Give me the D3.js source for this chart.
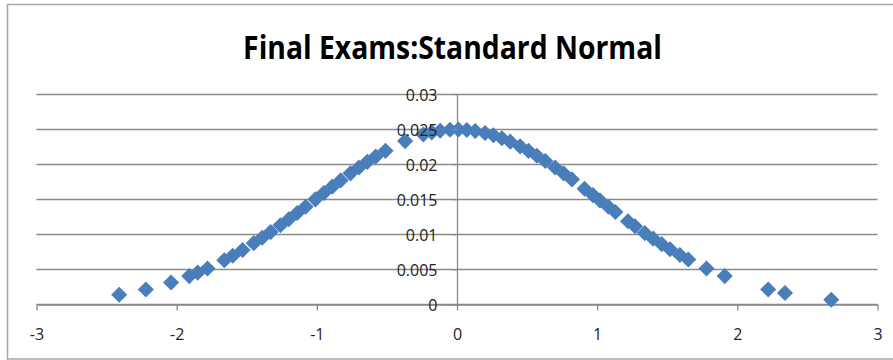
<!DOCTYPE html>
<html>
<head>
<meta charset="utf-8">
<script src="https://cdn.jsdelivr.net/npm/d3@7"></script>
<style>
  html, body { margin: 0; padding: 0; background: #fff; }
  svg { display: block; }
</style>
</head>
<body>
<svg id="chart" width="893" height="360"></svg>
<script>
// Standardised final-exam scores (z) and their normal density values
const zScores = [
  -2.41, -2.22, -2.04, -1.91, -1.85, -1.78, -1.66, -1.60, -1.53,
  -1.45, -1.39, -1.33, -1.26, -1.20, -1.14, -1.08, -1.01, -0.95, -0.89,
  -0.83, -0.76, -0.70, -0.64, -0.58, -0.51,
  -0.37,
  -0.24, -0.18, -0.12, -0.05, 0.01, 0.07, 0.13, 0.20, 0.26, 0.32, 0.38,
  0.45, 0.51, 0.57, 0.63, 0.70, 0.76, 0.82,
  0.91, 0.97, 1.02, 1.08, 1.13,
  1.22, 1.27, 1.34, 1.40, 1.46, 1.52, 1.59, 1.65,
  1.78, 1.91, 2.22, 2.34, 2.67
];
const density = [
  0.00137, 0.00212, 0.00311, 0.00402, 0.00451, 0.00511, 0.00629, 0.00693, 0.00774,
  0.00872, 0.00949, 0.01030, 0.01127, 0.01214, 0.01302, 0.01392, 0.01497, 0.01588, 0.01678,
  0.01767, 0.01868, 0.01952, 0.02032, 0.02107, 0.02189,
  0.02328,
  0.02423, 0.02453, 0.02476, 0.02490, 0.02493, 0.02487, 0.02472, 0.02444, 0.02411, 0.02369, 0.02320,
  0.02253, 0.02189, 0.02120, 0.02045, 0.01952, 0.01868, 0.01782,
  0.01648, 0.01558, 0.01482, 0.01392, 0.01317,
  0.01185, 0.01113, 0.01016, 0.00936, 0.00859, 0.00785, 0.00704, 0.00639,
  0.00511, 0.00402, 0.00212, 0.00161, 0.00065
];
const xTicks = [-3, -2, -1, 0, 1, 2, 3];
const xTickLabels = ["-3", "-2", "-1", "0", "1", "2", "3"];
const yTicks = [0, 0.005, 0.01, 0.015, 0.02, 0.025, 0.03];
const yTickLabels = ["0", "0.005", "0.01", "0.015", "0.02", "0.025", "0.03"];
const chartTitle = "Final Exams:Standard Normal";

const svg = d3.select("#chart");
const W = 893;
const plot = { left: 36.5, right: 877.5, top: 94, bottom: 304.3 };

const x = d3.scaleLinear().domain([-3, 3]).range([plot.left, plot.right]);
const y = d3.scaleLinear().domain([0, 0.03]).range([plot.bottom, plot.top]);

const gridColor = "#8a8a8a";
const labelFont = "'Open Sans', 'Liberation Sans', sans-serif";

// chart frame
svg.append("rect")
  .attr("x", 7.5).attr("y", 4.5)
  .attr("width", W + 10).attr("height", 354.5)
  .attr("fill", "#fff")
  .attr("stroke", "#a6a6a6")
  .attr("stroke-width", 1.5);

// horizontal gridlines
svg.append("g")
  .selectAll("line")
  .data(yTicks)
  .join("line")
  .attr("x1", plot.left).attr("x2", plot.right)
  .attr("y1", d => Math.round(y(d)) + 0.5)
  .attr("y2", d => Math.round(y(d)) + 0.5)
  .attr("stroke", gridColor)
  .attr("stroke-width", 1.3);

// x axis along zero
const xAxis = d3.axisBottom(x)
  .tickValues(xTicks)
  .tickFormat((d, i) => xTickLabels[i])
  .tickSizeInner(6)
  .tickSizeOuter(0);
const gx = svg.append("g")
  .attr("transform", `translate(0,${Math.round(y(0)) + 0.5})`)
  .call(xAxis);
gx.select(".domain").attr("stroke", gridColor).attr("stroke-width", 1.3);
gx.selectAll(".tick line").attr("stroke", gridColor).attr("stroke-width", 1.3);
gx.selectAll(".tick text")
  .attr("y", 35).attr("dy", 0)
  .attr("fill", "#222")
  .style("font-family", labelFont)
  .style("font-size", "16px");

// vertical axis line at x = 0 (below the markers)
const axisX = Math.round(x(0)) + 0.5;
svg.append("line")
  .attr("x1", axisX).attr("x2", axisX)
  .attr("y1", y(0.03)).attr("y2", Math.round(y(0)) + 0.5)
  .attr("stroke", gridColor)
  .attr("stroke-width", 1.3);

// diamond markers
const diamond = d3.symbol().type(d3.symbolSquare).size(130);
svg.append("g")
  .selectAll("path")
  .data(zScores.map((z, i) => ({ z, p: density[i] })))
  .join("path")
  .attr("d", diamond)
  .attr("transform", d => `translate(${x(d.z)},${y(d.p)}) rotate(45)`)
  .attr("fill", "#4a7ebb");

// y axis labels drawn above the markers
const yAxis = d3.axisLeft(y)
  .tickValues(yTicks)
  .tickFormat((d, i) => yTickLabels[i])
  .tickSizeInner(5)
  .tickSizeOuter(0)
  .tickPadding(15);
const gy = svg.append("g")
  .attr("transform", `translate(${axisX},0)`)
  .call(yAxis);
gy.select(".domain").remove();
gy.selectAll(".tick line").attr("stroke", gridColor).attr("stroke-width", 1.3);
gy.selectAll(".tick text")
  .attr("dy", "0.4em")
  .attr("fill", "#222")
  .style("font-family", labelFont)
  .style("font-size", "16px");

// title: tall bold face, condensed horizontally to its box width
const titleX = 452.5, titleY = 59, titleWidth = 419;
const title = svg.append("text")
  .attr("x", 0).attr("y", 0)
  .attr("text-anchor", "middle")
  .attr("fill", "#000")
  .style("font-family", "'Open Sans', 'Liberation Sans', sans-serif")
  .style("font-weight", "bold")
  .style("font-size", "32px")
  .text(chartTitle);
const tw = title.node().getComputedTextLength();
title.attr("transform", `translate(${titleX},${titleY}) scale(${titleWidth / tw},1)`);
</script>
</body>
</html>
